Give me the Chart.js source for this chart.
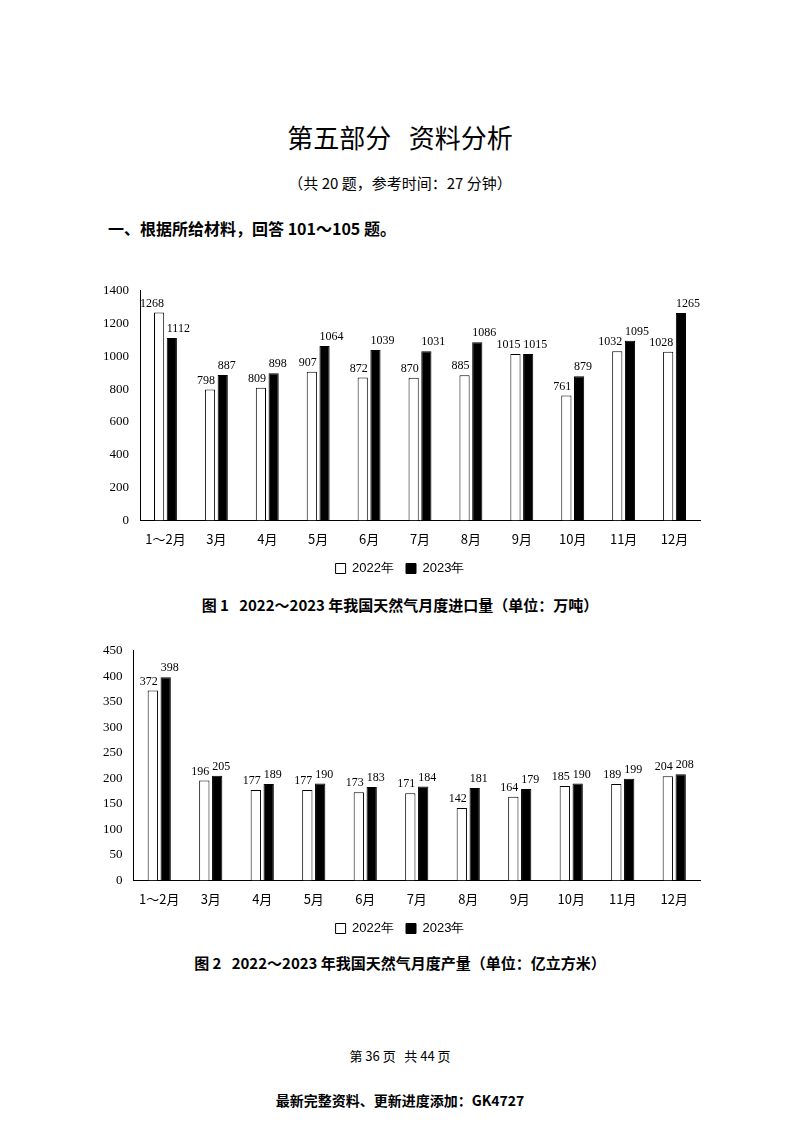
<!DOCTYPE html>
<html><head><meta charset="utf-8">
<script src="https://cdn.jsdelivr.net/npm/chart.js@4"></script>
<style>
body{margin:0;width:800px;height:1124px;background:#fff;position:relative;font-family:"Liberation Serif","Noto Sans CJK SC",serif;color:#000}
.t{position:absolute;left:0;width:800px;text-align:center}
.box{position:absolute;left:100px;width:610px}
</style></head><body>
<div class="t" style="top:118px;font-size:26px;font-family:'Noto Sans CJK SC';">第五部分&nbsp;&nbsp;&nbsp;资料分析</div>
<div class="t" style="top:172px;font-size:15px;font-family:'Noto Sans CJK SC';">（共 20 题，参考时间：27 分钟）</div>
<div style="position:absolute;left:108px;top:216px;font-size:16px;font-weight:bold;font-family:'Noto Sans CJK SC';">一、根据所给材料，回答 101～105 题。</div>
<div class="box" style="top:280px;height:305px"><canvas id="c1"></canvas></div>
<div class="t" style="top:594px;font-size:15px;font-weight:bold;font-family:'Noto Sans CJK SC';">图 1&nbsp;&nbsp;&nbsp;2022～2023 年我国天然气月度进口量（单位：万吨）</div>
<div class="box" style="top:640px;height:305px"><canvas id="c2"></canvas></div>
<div class="t" style="top:952px;font-size:15px;font-weight:bold;font-family:'Noto Sans CJK SC';">图 2&nbsp;&nbsp;&nbsp;2022～2023 年我国天然气月度产量（单位：亿立方米）</div>
<div class="t" style="top:1046px;font-size:13px;font-family:'Noto Sans CJK SC';">第 36 页&nbsp;&nbsp;&nbsp;共 44 页</div>
<div class="t" style="top:1090px;font-size:14px;font-weight:bold;font-family:'Noto Sans CJK SC';">最新完整资料、更新进度添加：GK4727</div>
<script>
const months = ['1～2月','3月','4月','5月','6月','7月','8月','9月','10月','11月','12月'];
const import2022 = [1268,798,809,907,872,870,885,1015,761,1032,1028];
const import2023 = [1112,887,898,1064,1039,1031,1086,1015,879,1095,1265];
const output2022 = [372,196,177,177,173,171,142,164,185,189,204];
const output2023 = [398,205,189,190,183,184,181,179,190,199,208];

const labelPlugin = {
  id: 'vals',
  afterDatasetsDraw(chart) {
    const ctx = chart.ctx;
    ctx.save();
    ctx.font = '12px "Liberation Serif"';
    ctx.fillStyle = '#000';
    ctx.textBaseline = 'bottom';
    chart.data.datasets.forEach((ds, i) => {
      ctx.textAlign = i === 0 ? 'right' : 'left';
      chart.getDatasetMeta(i).data.forEach((bar, j) => {
        const dx = i === 0 ? 5 : -5;
        ctx.fillText(ds.data[j], bar.x + dx, bar.y - 3);
      });
    });
    ctx.restore();
  }
};

function makeChart(id, a, b, max, step) {
  new Chart(document.getElementById(id), {
    type: 'bar',
    data: {
      labels: months,
      datasets: [
        { label: '2022年', data: a, backgroundColor: '#fff', borderColor: '#000', borderWidth: 1 },
        { label: '2023年', data: b, backgroundColor: '#000', borderColor: '#000', borderWidth: 1 }
      ]
    },
    options: {
      responsive: true, maintainAspectRatio: false, animation: false,
      layout: { padding: { top: 10, right: 10 } },
      datasets: { bar: { categoryPercentage: 0.5, barPercentage: 0.8 } },
      plugins: {
        tooltip: { enabled: false },
        legend: {
          position: 'bottom',
          labels: { color: '#000', boxWidth: 10, boxHeight: 10, padding: 12, font: { size: 13, family: 'Liberation Sans' } }
        }
      },
      scales: {
        x: {
          grid: { display: false },
          border: { color: '#000' },
          ticks: { color: '#000', font: { size: 13, family: 'Noto Sans CJK SC' } }
        },
        y: {
          min: 0, max: max,
          grid: { display: false },
          border: { color: '#000' },
          ticks: { stepSize: step, color: '#000', callback: v => String(v), font: { size: 13, family: 'Liberation Serif' } }
        }
      }
    },
    plugins: [labelPlugin]
  });
}
makeChart('c1', import2022, import2023, 1400, 200);
makeChart('c2', output2022, output2023, 450, 50);
</script>
</body></html>
